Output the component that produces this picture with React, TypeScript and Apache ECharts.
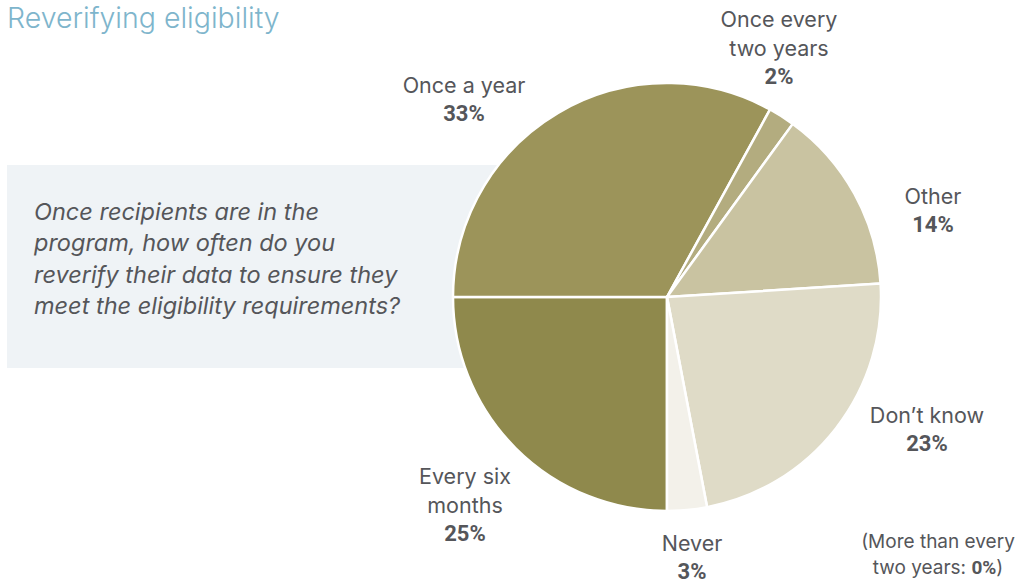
import React, { useEffect, useRef } from "react";
import * as echarts from "echarts";

const categories = ["Every six\nmonths", "Once a year", "Once every\ntwo years", "Other", "Don’t know", "Never"];
const values = [25, 33, 2, 14, 23, 3];
const colors = ["#8f894c", "#9c945a", "#b3ac7f", "#c9c3a1", "#dfdbc7", "#f3f1ea"];
const labelAnchors = [
  [465, 461],
  [464, 70],
  [779, 4],
  [933, 181],
  [927, 400],
  [692, 528],
];
const title = "Reverifying eligibility";
const question = "Once recipients are in the\nprogram, how often do you\nreverify their data to ensure they\nmeet the eligibility requirements?";
const footnoteLabel = "(More than every\ntwo years: ";
const footnoteValue = 0;

const TEXT = "#55565a";
const FONT = "Inter, Roboto, 'Liberation Sans', sans-serif";
const BOLD_FONT = "Roboto, 'Liberation Sans', sans-serif";

export default function App() {
  const ref = useRef<HTMLDivElement>(null);
  useEffect(() => {
    document.body.style.margin = "0";
    const chart = echarts.init(ref.current!, undefined, { renderer: "svg" });
    const labelGraphics = categories.map((c, i) => {
      const lines = c.split("\n").map((l) => `{n|${l}}`).join("\n");
      return {
        type: "text",
        x: labelAnchors[i][0],
        y: labelAnchors[i][1],
        z: 10,
        style: {
          text: `${lines}\n{b|${values[i]}%}`,
          align: "center",
          verticalAlign: "top",
          rich: {
            n: { fontSize: 21.5, lineHeight: 29, fill: TEXT, fontFamily: FONT, align: "center" },
            b: { fontSize: 22, lineHeight: 29, fill: TEXT, fontFamily: BOLD_FONT, fontWeight: "bold", align: "center" },
          },
        },
      };
    });
    const fnLines = footnoteLabel.split("\n");
    chart.setOption({
      animation: false,
      graphic: [
        {
          type: "rect",
          shape: { x: 7, y: 165, width: 600, height: 203 },
          style: { fill: "#eff3f6" },
          z: 0,
        },
        {
          type: "text",
          x: 7,
          y: 17,
          style: {
            text: title,
            fill: "#7eb5cc",
            font: `300 28.5px ${FONT}`,
            verticalAlign: "middle",
          },
        },
        {
          type: "text",
          x: 34,
          y: 196,
          z: 5,
          style: {
            text: question,
            fill: TEXT,
            font: `italic 23.5px ${FONT}`,
            lineHeight: 31.3,
            verticalAlign: "top",
          },
        },
        {
          type: "text",
          x: 938,
          y: 528,
          z: 10,
          style: {
            text: `{n|${fnLines[0]}}\n{n|${fnLines[1]}}{b|${footnoteValue}%}{n|)}`,
            align: "center",
            verticalAlign: "top",
            rich: {
              n: { fontSize: 19, lineHeight: 26, fill: TEXT, fontFamily: FONT },
              b: { fontSize: 19, lineHeight: 26, fill: TEXT, fontFamily: BOLD_FONT, fontWeight: "bold" },
            },
          },
        },
        ...labelGraphics,
      ],
      series: [
        {
          type: "pie",
          center: [667, 297],
          radius: 214,
          startAngle: 270,
          clockwise: true,
          z: 2,
          label: { show: false },
          labelLine: { show: false },
          itemStyle: { borderColor: "#ffffff", borderWidth: 2.5 },
          emphasis: { disabled: true },
          data: categories.map((c, i) => ({
            name: c,
            value: values[i],
            itemStyle: { color: colors[i] },
          })),
        },
      ],
    });
    return () => chart.dispose();
  }, []);
  return <div ref={ref} style={{ width: 1019, height: 583 }} />;
}
